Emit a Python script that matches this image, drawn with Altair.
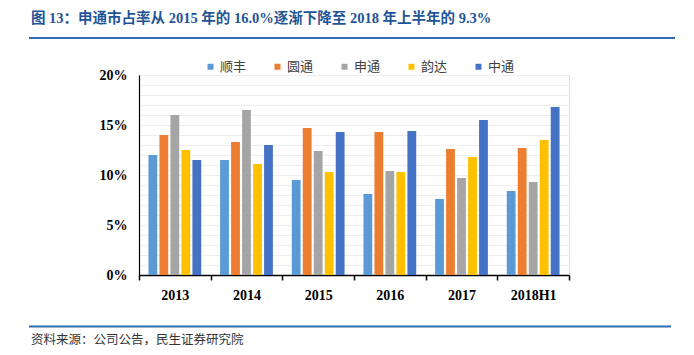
import altair as alt
import pandas as pd

years = ["2013", "2014", "2015", "2016", "2017", "2018H1"]
companies = ["顺丰", "圆通", "申通", "韵达", "中通"]
colors = ["#5B9BD5", "#ED7D31", "#A5A5A5", "#FFC000", "#4472C4"]
shunfeng = [12.0, 11.5, 9.5, 8.1, 7.6, 8.4]
yuantong = [14.0, 13.3, 14.7, 14.3, 12.6, 12.7]
shentong = [16.0, 16.5, 12.4, 10.4, 9.7, 9.3]
yunda = [12.5, 11.1, 10.3, 10.3, 11.8, 13.5]
zhongtong = [11.5, 13.0, 14.3, 14.4, 15.5, 16.8]
series = [shunfeng, yuantong, shentong, yunda, zhongtong]

title_text = "图 13：申通市占率从 2015 年的 16.0%逐渐下降至 2018 年上半年的 9.3%"
source_text = "资料来源：公司公告，民生证券研究院"

rows = []
for c, vals in zip(companies, series):
    for y, v in zip(years, vals):
        rows.append({"year": y, "company": c, "share": v})
df = pd.DataFrame(rows)

SERIF = "Liberation Serif, Noto Sans CJK SC"
BLUE = "#1F5496"

bars = alt.Chart(df).mark_bar(size=8.8).encode(
    x=alt.X("year:N", sort=years, title=None,
            scale=alt.Scale(paddingInner=0, paddingOuter=0),
            axis=alt.Axis(labelAngle=0, labelFont="Liberation Serif", labelFontSize=14,
                          labelFontWeight="bold", labelColor="#000000", labelPadding=8,
                          tickBand="extent", ticks=True, tickSize=5, tickColor="#000000",
                          tickWidth=1.5, domainColor="#000000", domainWidth=1.5, grid=False)),
    xOffset=alt.XOffset("company:N", sort=companies,
                        scale=alt.Scale(paddingInner=0.2, paddingOuter=0.86)),
    y=alt.Y("share:Q", title=None,
            scale=alt.Scale(domain=[0, 20], nice=False),
            axis=alt.Axis(values=list(range(0, 21)),
                          labelExpr="datum.value % 5 == 0 ? datum.value + '%' : ''",
                          labelFont="Liberation Serif", labelFontSize=14, labelFontWeight="bold",
                          labelColor="#000000", labelPadding=12, ticks=False,
                          domainColor="#000000", domainWidth=1.2,
                          grid=True, gridColor="#EEEEEE", gridWidth=1)),
    color=alt.Color("company:N", sort=companies,
                    scale=alt.Scale(domain=companies, range=colors),
                    legend=alt.Legend(title=None, orient="none", direction="horizontal",
                                      legendX=65, legendY=-15, symbolType="square",
                                      symbolSize=36, symbolStrokeWidth=0,
                                      labelFont="Noto Sans CJK SC", labelFontSize=13,
                                      labelColor="#404040", labelOffset=3,
                                      columnPadding=24)),
)

title = alt.Chart(pd.DataFrame({"t": [title_text]})).mark_text(
    align="left", baseline="middle", font=SERIF, fontSize=14.5, fontWeight="bold", color=BLUE
).encode(x=alt.value(-108), y=alt.value(-56), text="t:N")

rule_top = alt.Chart(pd.DataFrame({"a": [0]})).mark_rule(color="#2E6DB4", strokeWidth=2).encode(
    x=alt.value(-110), x2=alt.value(536), y=alt.value(-37))

rule_bottom = alt.Chart(pd.DataFrame({"a": [0]})).mark_rule(color="#2E6DB4", strokeWidth=2).encode(
    x=alt.value(-110), x2=alt.value(532), y=alt.value(251.5))

source = alt.Chart(pd.DataFrame({"t": [source_text]})).mark_text(
    align="left", baseline="middle", font="Noto Sans CJK SC", fontSize=12.5, color="#333333"
).encode(x=alt.value(-108), y=alt.value(264.5), text="t:N")

chart = alt.layer(bars, title, rule_top, rule_bottom, source).properties(
    width=430, height=200,
    padding={"left": 131, "top": 67, "right": 117, "bottom": 72},
    autosize=alt.AutoSizeParams(type="none"),
).configure_view(stroke=None).configure(background="#FFFFFF")

chart.save("out.html", embed_options={"renderer": "svg", "actions": False})
